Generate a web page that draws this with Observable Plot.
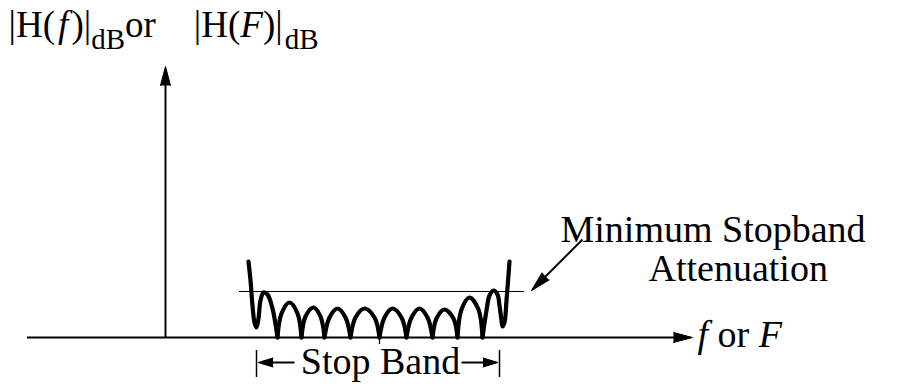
<!DOCTYPE html>
<html><head><meta charset="utf-8">
<script src="https://cdn.jsdelivr.net/npm/d3@7"></script>
<script src="https://cdn.jsdelivr.net/npm/@observablehq/plot@0.6"></script>
<style>html,body{margin:0;padding:0;background:#fff;} #chart svg{display:block;background:#fff;}</style>
</head><body><div id="chart"></div>
<script>
// Frequency axis f (arbitrary units, 0 at the magnitude axis), magnitude v (dB, arbitrary units, 0 on the f axis)
const leftEdge = [[8.3,7.6],[8.5,5.7],[8.7,3.2],[8.9,1.5],[9.1,1.0],[9.3,1.9],[9.5,3.7],[9.8,4.5],[10.2,4.3],[10.7,2.9],[11.2,0]];
const lobe1 = [[11.2,0],[11.6,2.4],[12.4,3.5],[13.2,2.4],[13.6,0]];
const lobe2 = [[13.6,0],[14.0,2.1],[14.8,3.0],[15.5,2.1],[15.9,0]];
const lobe3 = [[15.9,0],[16.4,2.0],[17.2,2.9],[18.0,2.0],[18.5,0]];
const lobe4 = [[18.5,0],[19.0,2.0],[19.9,2.9],[20.9,2.0],[21.4,0]];
const lobe5 = [[21.4,0],[21.9,2.0],[22.7,2.9],[23.6,2.0],[24.1,0]];
const lobe6 = [[24.1,0],[24.6,2.0],[25.4,2.9],[26.2,2.0],[26.7,0]];
const lobe7 = [[26.7,0],[27.1,1.9],[27.9,2.8],[28.8,1.9],[29.2,0]];
const lobe8 = [[29.2,0],[29.6,2.8],[30.4,4.0],[31.3,2.8],[31.7,0]];
const rightEdge = [[31.7,0],[32.1,2.7],[32.4,4.2],[32.8,4.7],[33.2,4.3],[33.4,3.2],[33.6,1.7],[33.7,1.1],[33.9,1.5],[34.1,3.7],[34.4,7.6]];
const segments = [leftEdge, lobe1, lobe2, lobe3, lobe4, lobe5, lobe6, lobe7, lobe8, rightEdge];

const minAttenuation = 4.6;          // level of the minimum stopband attenuation line
const minAttenuationSpan = [7.4, 35.9];
const stopEdges = [9.1, 33.4];       // stop band limits
const centerF = 21.4;
const fAxis = [-13.8, 52.7];         // extent of the f axis (arrow tip at end)
const hAxisTop = 27.1;               // tip of the magnitude axis arrow

const startLabels = [
  {f: 53.2, v: -0.9, text: "f or F"},
  {f: 39.5, v: 9.6, text: "Minimum Stopband"},
  {f: 48.3, v: 5.7, text: "Attenuation"}
];
const titleLabels = [{f: -15.7, v: 30.1, text: "|H(f)|dB or |H(F)|dB"}];
const middleLabels = [{f: 21.5, v: -3.6, text: "Stop Band"}];

const curveRows = segments.flatMap((s, i) => s.map(([f, v]) => ({f, v, seg: i})));

const axisHeads = [
  {f: fAxis[1], v: 0, rotate: 90},
  {f: 0, v: hAxisTop, rotate: 0}
];
const bandArrows = [
  {f1: 12.9, f2: stopEdges[0] + 0.8, v: -2.5},
  {f1: 29.6, f2: stopEdges[1] - 0.8, v: -2.5}
];
const bandHeads = [
  {f: stopEdges[0] + 0.15, v: -2.5, rotate: 270},
  {f: stopEdges[1] - 0.15, v: -2.5, rotate: 90}
];
const noteArrow = [{f1: 41.7, v1: 9.8, f2: 37.8, v2: 5.9}];
const noteHead = [{f: 36.6, v: 4.7, rotate: 225}];

const serif = "Liberation Serif, Times New Roman, serif";

const chart = Plot.plot({
  width: 903, height: 384,
  marginTop: 0, marginBottom: 0, marginLeft: 0, marginRight: 0,
  x: {domain: [-16.5, 73.8], axis: null},
  y: {domain: [-4.7, 33.7], axis: null},
  style: {fontFamily: serif, background: "#fff", color: "#000"},
  marks: [
    Plot.ruleY([0], {x1: fAxis[0], x2: fAxis[1] - 1.5, strokeWidth: 2}),
    Plot.ruleX([0], {y1: 0, y2: hAxisTop - 1.6, strokeWidth: 2}),
    Plot.vector(axisHeads, {x: "f", y: "v", rotate: "rotate", length: 19, r: 5, shape: "spike", anchor: "end", fill: "black", stroke: "black", strokeWidth: 1}),
    Plot.ruleY([minAttenuation], {x1: minAttenuationSpan[0], x2: minAttenuationSpan[1], strokeWidth: 1.2}),
    Plot.ruleX([centerF], {y1: 0, y2: -0.7, strokeWidth: 1.2}),
    Plot.line(curveRows, {x: "f", y: "v", z: "seg", curve: "catmull-rom", stroke: "black", strokeWidth: 4.2, strokeLinejoin: "round", strokeLinecap: "round"}),
    Plot.ruleX(stopEdges, {y1: -1.3, y2: -4.0, strokeWidth: 1.5}),
    Plot.link(bandArrows, {x1: "f1", x2: "f2", y1: "v", y2: "v", strokeWidth: 2}),
    Plot.vector(bandHeads, {x: "f", y: "v", rotate: "rotate", length: 15, r: 4.5, shape: "spike", anchor: "end", fill: "black", stroke: "black", strokeWidth: 1}),
    Plot.link(noteArrow, {x1: "f1", y1: "v1", x2: "f2", y2: "v2", strokeWidth: 2}),
    Plot.vector(noteHead, {x: "f", y: "v", rotate: "rotate", length: 20, r: 5, shape: "spike", anchor: "end", fill: "black", stroke: "black", strokeWidth: 1}),
    Plot.text(titleLabels, {x: "f", y: "v", text: "text", textAnchor: "start", lineAnchor: "bottom", fontSize: 37, fontFamily: serif, fill: "black"}),
    Plot.text(startLabels, {x: "f", y: "v", text: "text", textAnchor: "start", lineAnchor: "bottom", fontSize: 38, fontFamily: serif, fill: "black"}),
    Plot.text(middleLabels, {x: "f", y: "v", text: "text", textAnchor: "middle", lineAnchor: "bottom", fontSize: 38, fontFamily: serif, fill: "black"})
  ]
});

// rich text (italics, subscripts)
const rich = {
  "|H(f)|dB or |H(F)|dB": [
    {t: "|H(\u200a"}, {t: "f", i: true}, {t: "\u200a)|"}, {t: "dB", sub: true}, {t: "or", dy: -12},
    {t: "|H(", dx: 38}, {t: "F", i: true}, {t: ")|"}, {t: "dB", sub: true, dx: 2}
  ],
  "f or F": [{t: "f", i: true}, {t: " or "}, {t: "F", i: true}]
};
d3.select(chart).selectAll("text").each(function() {
  const spec = rich[this.textContent];
  if (!spec) return;
  this.textContent = "";
  const sel = d3.select(this);
  for (const p of spec) {
    const ts = sel.append("tspan").text(p.t);
    if (p.i) ts.attr("font-style", "italic");
    if (p.sub) ts.attr("font-size", 29).attr("dy", 12);
    if (p.dy) ts.attr("dy", p.dy);
    if (p.dx) ts.attr("dx", p.dx);
  }
});

document.getElementById("chart").append(chart);
</script>
</body></html>
